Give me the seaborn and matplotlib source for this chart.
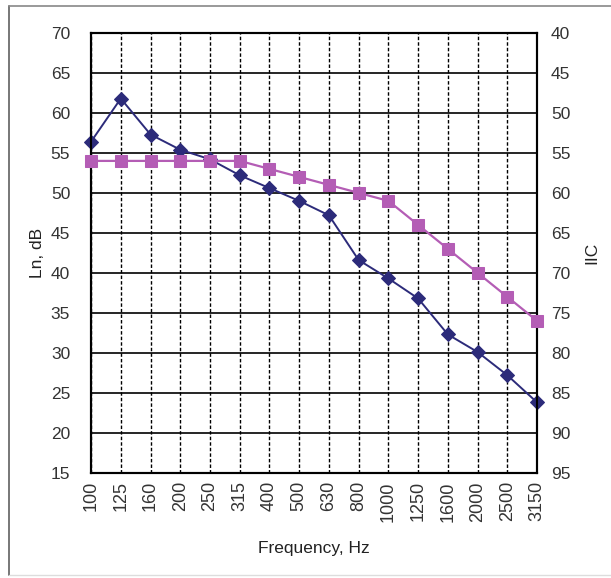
import numpy as np
import pandas as pd
import seaborn as sns
import matplotlib.pyplot as plt
from matplotlib.lines import Line2D

# Data
freqs = ["100", "125", "160", "200", "250", "315", "400", "500",
         "630", "800", "1000", "1250", "1600", "2000", "2500", "3150"]
ln_db = [56.4, 61.8, 57.3, 55.4, 54.2, 52.2, 50.6, 49.0,
         47.2, 41.6, 39.3, 36.8, 32.3, 30.1, 27.2, 23.8]
iic_contour = [56, 56, 56, 56, 56, 56, 57, 58, 59, 60, 61, 64, 67, 70, 73, 76]

df = pd.DataFrame({"pos": np.arange(len(freqs)), "freq": freqs,
                   "ln": ln_db, "iic": iic_contour})

sns.set_style("white")
plt.rcParams["font.family"] = ["Liberation Sans", "DejaVu Sans"]

fig = plt.figure(figsize=(6.11, 5.78), dpi=100)
ax = fig.add_axes([0.149, 0.182, 0.73, 0.761])
ax2 = ax.twinx()

blue = "#2c2b7a"
pink = "#b45db5"

sns.lineplot(data=df, x="pos", y="ln", ax=ax, color=blue, marker="D",
             markersize=7, markeredgecolor=blue, linewidth=1.4, zorder=4,
             clip_on=False)
sns.lineplot(data=df, x="pos", y="iic", ax=ax2, color=pink, marker="s",
             markersize=8.5, markeredgecolor=pink, linewidth=1.6, zorder=3,
             clip_on=False)

ax.set_xlim(0, len(freqs) - 1)
ax.set_ylim(15, 70)
ax.set_yticks(np.arange(15, 71, 5))
ax2.set_ylim(95, 40)
ax2.set_yticks(np.arange(40, 96, 5))

ax.set_xticks(df["pos"])
ax.set_xticklabels(freqs, rotation=90)

# grid: solid horizontal, dashed vertical
ax.yaxis.grid(True, color="black", linewidth=1.2, linestyle="-")
ax.xaxis.grid(True, color="black", linewidth=1.0, linestyle=(0, (2.5, 1.5)))
ax.set_axisbelow(True)
ax2.grid(False)

for a in (ax, ax2):
    for s in a.spines.values():
        s.set_color("black")
        s.set_linewidth(1.5)
    a.tick_params(length=0, labelsize=12.5, labelcolor="#333333")
ax.tick_params(axis="y", pad=15)
ax2.tick_params(axis="y", pad=10)
ax.tick_params(axis="x", pad=6, labelsize=13)

ax.set_xlabel("Frequency, Hz", fontsize=12.5, color="#222222", labelpad=14)
ax.set_ylabel("Ln, dB", fontsize=12.5, color="#222222", labelpad=4)
ax2.set_ylabel("IIC", fontsize=12.5, color="#222222", labelpad=10)

# outer frame of the picture (left, top, bottom only)
fx0, fy0, fy1 = 0.014, 0.006, 0.989
fig.lines.append(Line2D([fx0, fx0], [fy0, fy1], transform=fig.transFigure,
                        color="#777777", linewidth=1.4))
fig.lines.append(Line2D([fx0, 1.0], [fy1, fy1], transform=fig.transFigure,
                        color="#888888", linewidth=1.2))
fig.lines.append(Line2D([fx0, 1.0], [fy0, fy0], transform=fig.transFigure,
                        color="#dddddd", linewidth=1.0))

fig.savefig("out.png", dpi=100)
